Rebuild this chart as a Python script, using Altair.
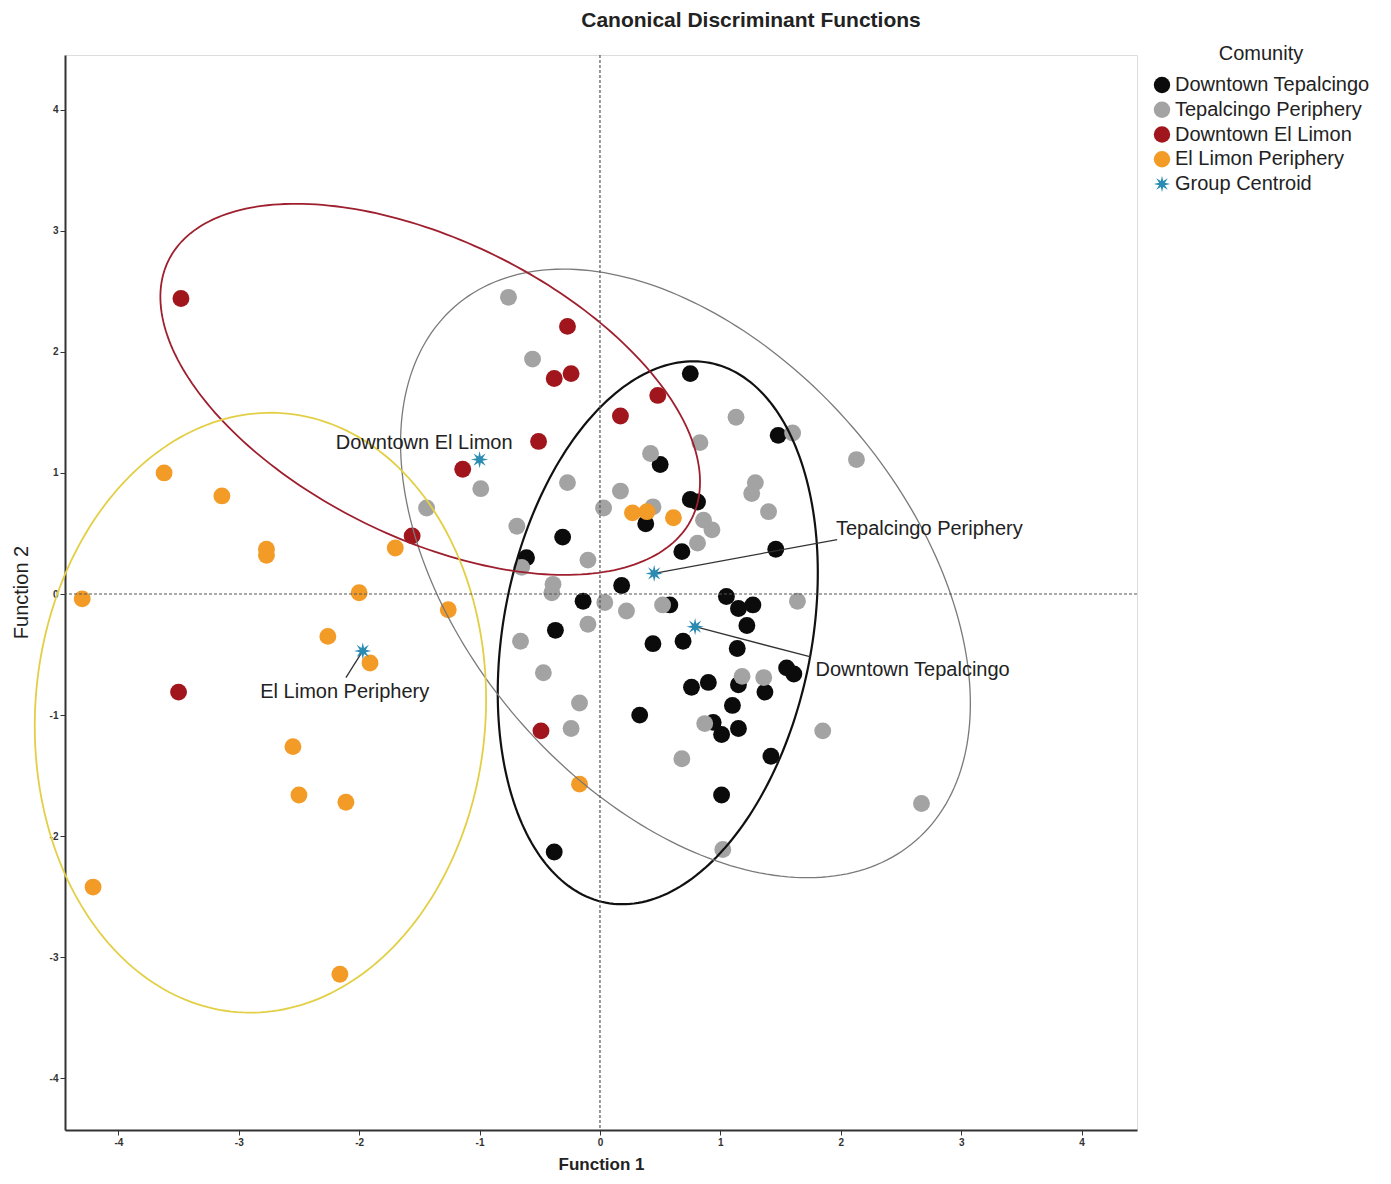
import math
import numpy as np
import pandas as pd
import altair as alt

# ---------------- data ----------------
GROUPS = ["Downtown Tepalcingo", "Tepalcingo Periphery", "Downtown El Limon",
          "El Limon Periphery", "Group Centroid"]
COLORS = ["#0b0b0b", "#a3a3a3", "#a0161c", "#f39b27", "#2a8cb3"]

dt_f1 = [0.75, 1.48, 0.50, 0.75, 0.81, 0.38, -0.31, -0.61, 0.68, 1.46, 0.18, -0.14,
         -0.37, 1.05, 1.15, 1.27, 0.58, 1.22, 0.44, 0.69, 1.14, 1.55, 1.61, 0.76,
         0.90, 1.15, 1.37, 1.10, 0.33, 0.94, 1.01, 1.15, 1.42, 1.01, -0.38]
dt_f2 = [1.82, 1.31, 1.07, 0.78, 0.76, 0.58, 0.47, 0.30, 0.35, 0.37, 0.07, -0.06,
         -0.30, -0.02, -0.12, -0.09, -0.09, -0.26, -0.41, -0.39, -0.45, -0.61, -0.66, -0.77,
         -0.73, -0.75, -0.81, -0.92, -1.00, -1.06, -1.16, -1.11, -1.34, -1.66, -2.13]

tp_f1 = [-0.76, -0.56, 1.13, 0.83, 1.60, 2.13, 0.42, -0.99, -0.27, 0.17, -1.44, 0.03,
         0.44, -0.69, 1.29, 1.26, 1.40, 0.86, 0.93, 0.81, -0.10, -0.65, -0.39, -0.40,
         0.04, 0.52, 1.64, 0.22, -0.10, -0.66, 1.18, 1.36, -0.47, -0.17, -0.24, 0.87,
         1.85, 0.68, 2.67, 1.02]
tp_f2 = [2.45, 1.94, 1.46, 1.25, 1.33, 1.11, 1.16, 0.87, 0.92, 0.85, 0.71, 0.71,
         0.72, 0.56, 0.92, 0.83, 0.68, 0.61, 0.53, 0.42, 0.28, 0.22, 0.08, 0.01,
         -0.07, -0.09, -0.06, -0.14, -0.25, -0.39, -0.68, -0.69, -0.65, -0.90, -1.11, -1.07,
         -1.13, -1.36, -1.73, -2.11]

del_f1 = [-3.48, -0.27, -0.38, -0.24, 0.48, 0.17, -0.51, -1.14, -1.56, -3.50, -0.49]
del_f2 = [2.44, 2.21, 1.78, 1.82, 1.64, 1.47, 1.26, 1.03, 0.48, -0.81, -1.13]

elp_f1 = [-3.62, -3.14, -2.77, -2.77, -1.70, -2.00, -4.30, -1.26, -2.26, -1.91, -2.55,
          -2.50, -2.11, -4.21, -2.16, -0.17, 0.27, 0.39, 0.61]
elp_f2 = [1.00, 0.81, 0.37, 0.32, 0.38, 0.01, -0.04, -0.13, -0.35, -0.57, -1.26,
          -1.66, -1.72, -2.42, -3.14, -1.57, 0.67, 0.68, 0.63]

# group centroids
cen_names = ["Downtown Tepalcingo", "Tepalcingo Periphery", "Downtown El Limon", "El Limon Periphery"]
cen_f1 = [0.79, 0.45, -1.00, -1.97]
cen_f2 = [-0.27, 0.17, 1.11, -0.47]

# centroid labels
lab_text = ["Downtown Tepalcingo", "Tepalcingo Periphery", "Downtown El Limon", "El Limon Periphery"]
lab_f1 = [1.79, 1.96, -1.46, -2.12]
lab_f2 = [-0.63, 0.54, 1.25, -0.81]
lab_align = ["left", "left", "center", "center"]

# leader lines (from centroid to label)
lead_f1 = [0.79, 0.45, -1.97]
lead_f2 = [-0.27, 0.17, -0.47]
lead_f1b = [1.75, 1.97, -2.11]
lead_f2b = [-0.52, 0.45, -0.69]

# 95% ellipses: centre, semi-axes, angle (deg)
ell_cx = [0.48, 0.71, -1.41, -2.82]
ell_cy = [-0.32, 0.17, 1.69, -0.98]
ell_a = [2.27, 2.92, 2.42, 2.48]
ell_b = [1.28, 1.84, 1.23, 1.87]
ell_ang = [79.0, -49.0, -26.0, 85.5]
ell_col = ["#111111", "#7a7a7a", "#9e1f2e", "#e3cf45"]
ell_w = [2.2, 1.3, 1.8, 1.8]

X_DOM = [-4.443, 4.460]
Y_DOM = [-4.426, 4.451]
TICKS = [-4, -3, -2, -1, 0, 1, 2, 3, 4]

# ---------------- frames ----------------
pts = pd.concat([
    pd.DataFrame({"f1": dt_f1, "f2": dt_f2, "group": GROUPS[0]}),
    pd.DataFrame({"f1": tp_f1, "f2": tp_f2, "group": GROUPS[1]}),
    pd.DataFrame({"f1": del_f1, "f2": del_f2, "group": GROUPS[2]}),
    pd.DataFrame({"f1": elp_f1, "f2": elp_f2, "group": GROUPS[3]}),
], ignore_index=True)
cen = pd.DataFrame({"f1": cen_f1, "f2": cen_f2, "group": "Group Centroid", "name": cen_names})

star_pts = []
for k in range(16):
    r = 1.0 if k % 2 == 0 else 0.38
    ang = k * math.pi / 8 - math.pi / 2
    star_pts.append(f"{r*math.cos(ang):.3f},{r*math.sin(ang):.3f}")
STAR = "M" + "L".join(star_pts) + "Z"
SHAPES = ["circle", "circle", "circle", "circle", STAR]

FONT = "Liberation Sans"

xs = alt.Scale(domain=X_DOM, nice=False, zero=False)
ys = alt.Scale(domain=Y_DOM, nice=False, zero=False)

xaxis = alt.Axis(values=TICKS, title="Function 1", grid=False, tickSize=5, labelPadding=2,
                 labelFontSize=10, labelFontWeight="bold", labelFont=FONT, labelColor="#333",
                 labelExpr="'' + datum.value", domainWidth=2, domainColor="#333", tickColor="#333",
                 titleFont=FONT, titleFontSize=17, titleFontWeight="bold", titleColor="#222",
                 titleX=536, titleY=34, titleBaseline="middle", titleAlign="center")
yaxis = alt.Axis(values=TICKS, title="Function 2", grid=False, tickSize=5, labelPadding=2,
                 labelFontSize=10, labelFontWeight="bold", labelFont=FONT, labelColor="#333",
                 labelExpr="'' + datum.value", domainWidth=2, domainColor="#333", tickColor="#333",
                 titleFont=FONT, titleFontSize=20, titleFontWeight="normal", titleColor="#222",
                 titleX=-44, titleY=537, titleAngle=-90, titleBaseline="middle", titleAlign="center")

legend = alt.Legend(orient="none", legendX=1087, legendY=-11, title="Comunity",
                    titleAnchor="middle", titleFont=FONT, titleFontSize=20, titleFontWeight="normal",
                    titleColor="#222", titlePadding=11, labelFont=FONT, labelFontSize=20,
                    labelColor="#222", labelOffset=3, labelLimit=0, symbolSize=270, rowPadding=4.75,
                    padding=0, symbolStrokeWidth=0)

color = alt.Color("group:N", scale=alt.Scale(domain=GROUPS, range=COLORS), legend=legend)
shape = alt.Shape("group:N", scale=alt.Scale(domain=GROUPS, range=SHAPES), legend=legend)

points = alt.Chart(pts).mark_point(filled=True, size=285, opacity=1, strokeWidth=0).encode(
    x=alt.X("f1:Q", scale=xs, axis=xaxis),
    y=alt.Y("f2:Q", scale=ys, axis=yaxis),
    color=color, shape=shape,
)

layers = [points]

for i in range(4):
    t = np.linspace(0, 2 * np.pi, 241)
    th = math.radians(ell_ang[i])
    ex = ell_cx[i] + ell_a[i] * np.cos(t) * math.cos(th) - ell_b[i] * np.sin(t) * math.sin(th)
    ey = ell_cy[i] + ell_a[i] * np.cos(t) * math.sin(th) + ell_b[i] * np.sin(t) * math.cos(th)
    edf = pd.DataFrame({"f1": ex, "f2": ey, "i": np.arange(len(t))})
    layers.append(
        alt.Chart(edf).mark_line(color=ell_col[i], strokeWidth=ell_w[i]).encode(
            x=alt.X("f1:Q", scale=xs), y=alt.Y("f2:Q", scale=ys), order="i:Q")
    )

zero = pd.DataFrame({"v": [0.0]})
layers.append(alt.Chart(zero).mark_rule(color="#555", strokeDash=[3, 2], strokeWidth=1.2).encode(
    x=alt.X("v:Q", scale=xs)))
layers.append(alt.Chart(zero).mark_rule(color="#555", strokeDash=[3, 2], strokeWidth=1.2).encode(
    y=alt.Y("v:Q", scale=ys)))

lead = pd.DataFrame({"a": lead_f1, "b": lead_f2, "a2": lead_f1b, "b2": lead_f2b})
layers.append(alt.Chart(lead).mark_rule(color="#333", strokeWidth=1.3).encode(
    x=alt.X("a:Q", scale=xs), y=alt.Y("b:Q", scale=ys), x2="a2:Q", y2="b2:Q"))

centroids = alt.Chart(cen).mark_point(filled=True, size=300, opacity=1, strokeWidth=0).encode(
    x=alt.X("f1:Q", scale=xs), y=alt.Y("f2:Q", scale=ys), color=color, shape=shape)
layers.append(centroids)

labs = pd.DataFrame({"f1": lab_f1, "f2": lab_f2, "t": lab_text, "al": lab_align})
for al in ["left", "center"]:
    layers.append(alt.Chart(labs[labs.al == al]).mark_text(
        align=al, baseline="middle", font=FONT, fontSize=20, color="#222").encode(
        x=alt.X("f1:Q", scale=xs), y=alt.Y("f2:Q", scale=ys), text="t:N"))

chart = alt.layer(*layers).properties(
    width=1072, height=1075,
    title=alt.Title("Canonical Discriminant Functions", font=FONT, fontSize=21, fontWeight="bold",
                    color="#222", anchor="middle", frame="group", dx=150, offset=13),
    autosize=alt.AutoSizeParams(type="none"),
    padding={"left": 57, "top": 47, "right": 246, "bottom": 42},
).configure_view(stroke="#555", strokeWidth=1).configure(background="white")

chart.save("out.html", embed_options={"renderer": "svg", "actions": False})
